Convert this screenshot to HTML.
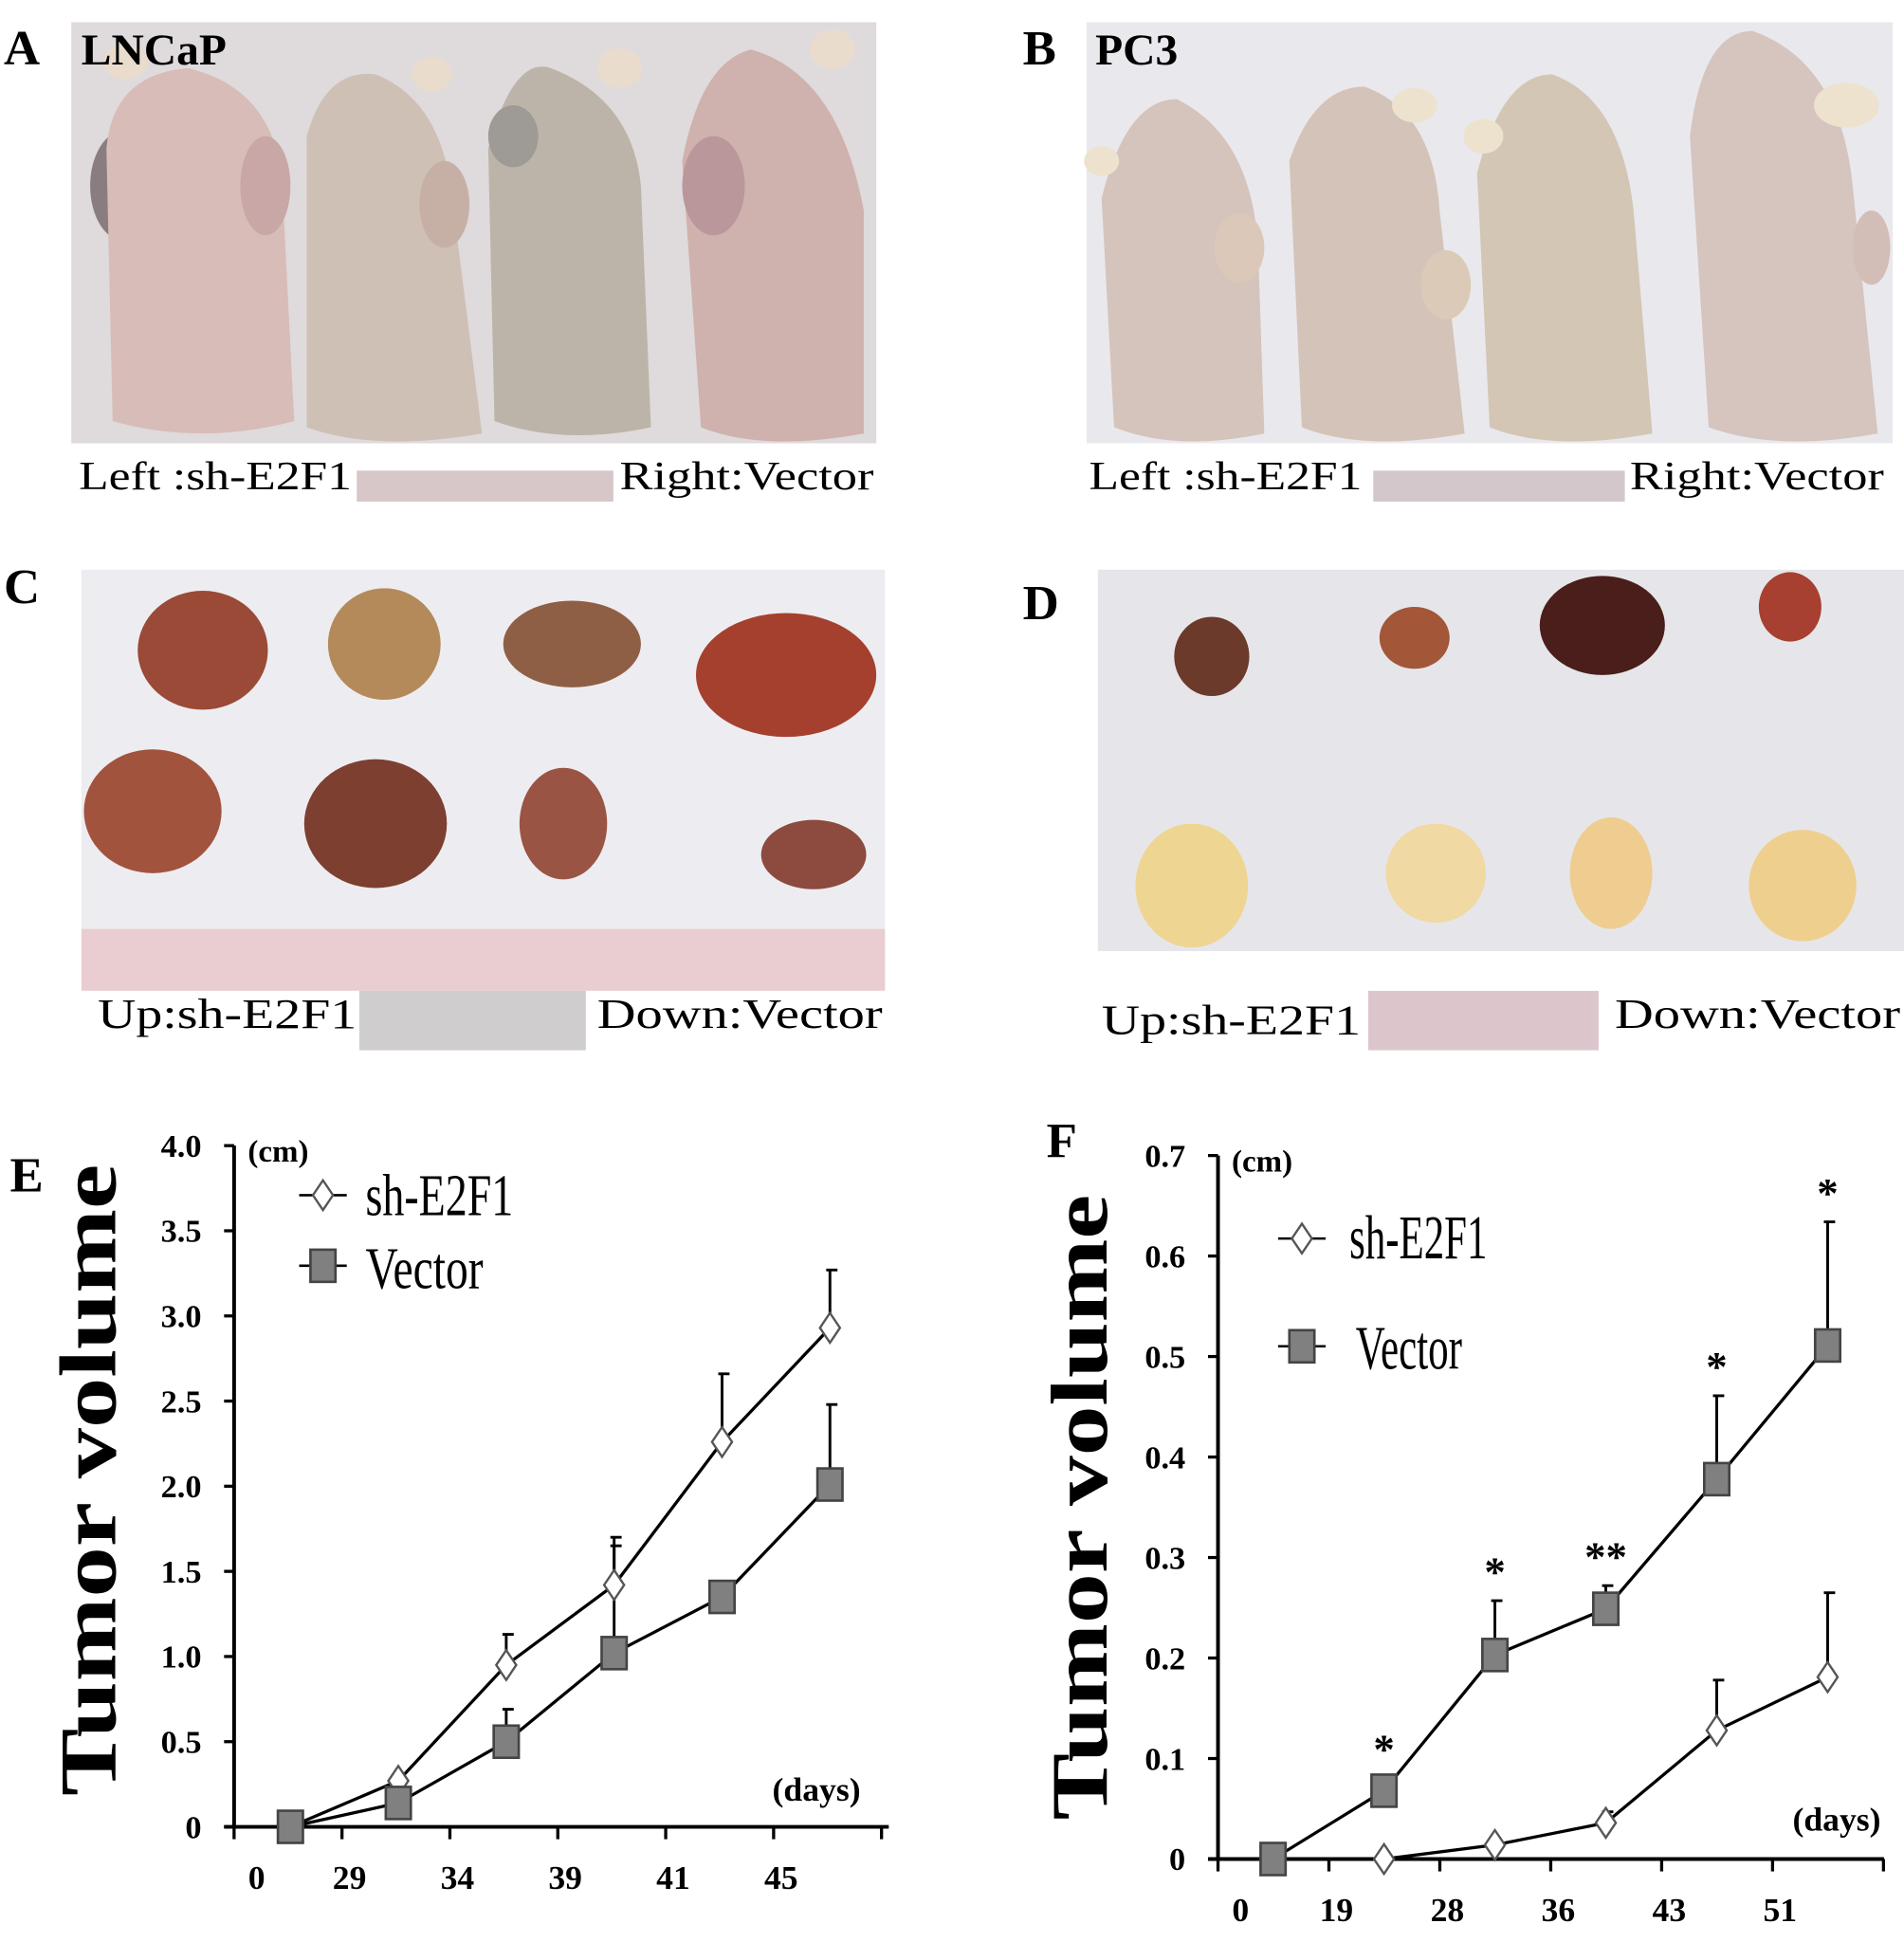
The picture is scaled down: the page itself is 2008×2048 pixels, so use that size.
<!DOCTYPE html>
<html><head><meta charset="utf-8"><style>
html,body{margin:0;padding:0;background:#fff;}
svg{display:block;}
text{font-family:"Liberation Serif",serif;}
.b{font-weight:bold;}
</style></head><body>
<svg id="fig" width="2008" height="2048" viewBox="0 0 1521 1568" preserveAspectRatio="none" xmlns="http://www.w3.org/2000/svg">
<rect width="1521" height="1568" fill="#fff"/>

<!-- Panel A -->
<g>
<rect x="57" y="18" width="643" height="340" fill="#e6e3e6"/>
<rect x="57" y="18" width="643" height="340" fill="#d8d2d2" opacity="0.5"/>
<ellipse cx="100" cy="150" rx="28" ry="45" fill="#8a7d7f"/>
<path d="M85 120 Q90 60 150 55 Q215 70 225 140 L235 340 Q160 360 90 340 Z" fill="#d8bcb8"/>
<path d="M245 110 Q260 55 300 60 Q350 80 360 150 L385 350 Q300 365 245 345 Z" fill="#cfc0b6"/>
<path d="M390 120 Q410 45 440 55 Q505 80 512 150 L520 345 Q450 360 395 340 Z" fill="#bdb4a9"/>
<path d="M545 130 Q560 50 600 40 Q670 60 690 170 L690 350 Q610 365 560 345 Z" fill="#cfb1ad"/>
<ellipse cx="212" cy="150" rx="20" ry="40" fill="#c8a7a6"/>
<ellipse cx="355" cy="165" rx="20" ry="35" fill="#c6b0a6"/>
<ellipse cx="410" cy="110" rx="20" ry="25" fill="#9e9a95"/>
<ellipse cx="570" cy="150" rx="25" ry="40" fill="#b9979a"/>
<ellipse cx="100" cy="50" rx="18" ry="14" fill="#eadccc"/>
<ellipse cx="345" cy="60" rx="16" ry="14" fill="#eadccc"/>
<ellipse cx="495" cy="55" rx="18" ry="16" fill="#eadccc"/>
<ellipse cx="665" cy="40" rx="18" ry="16" fill="#eadccc"/>
</g>
<rect x="57" y="358" width="643" height="47" fill="#fff"/>
<rect x="285" y="380" width="205" height="25" fill="#d7c7c9"/>
<text x="63" y="395" font-size="32" textLength="218" lengthAdjust="spacingAndGlyphs">Left :sh-E2F1</text>
<text x="495" y="395" font-size="32" textLength="203" lengthAdjust="spacingAndGlyphs">Right:Vector</text>
<text x="3" y="52" font-size="40" class="b">A</text>
<text x="65" y="52" font-size="36" class="b">LNCaP</text>

<!-- Panel B -->
<g>
<rect x="868" y="18" width="644" height="340" fill="#e9e8ed"/>
<path d="M880 160 Q900 80 940 80 Q1000 110 1005 200 L1010 350 Q940 365 890 345 Z" fill="#d5c4bc"/>
<path d="M1030 130 Q1050 70 1090 70 Q1145 90 1150 170 L1170 350 Q1090 365 1040 345 Z" fill="#d4c3b8"/>
<path d="M1180 140 Q1200 60 1240 60 Q1295 80 1305 170 L1320 350 Q1240 365 1190 345 Z" fill="#d3c6b5"/>
<path d="M1350 110 Q1360 25 1400 25 Q1470 50 1480 150 L1500 350 Q1420 365 1365 345 Z" fill="#d6c4be"/>
<ellipse cx="990" cy="200" rx="20" ry="28" fill="#dcc8b8"/>
<ellipse cx="1155" cy="230" rx="20" ry="28" fill="#dccab8"/>
<ellipse cx="1495" cy="200" rx="15" ry="30" fill="#d2beb6"/>
<ellipse cx="880" cy="130" rx="14" ry="12" fill="#ece2ce"/>
<ellipse cx="1130" cy="85" rx="18" ry="14" fill="#ece2ce"/>
<ellipse cx="1185" cy="110" rx="16" ry="14" fill="#ece2ce"/>
<ellipse cx="1475" cy="85" rx="26" ry="18" fill="#ece2ce"/>
</g>
<rect x="868" y="358" width="644" height="47" fill="#fff"/>
<rect x="1097" y="380" width="201" height="25" fill="#d4c7cc"/>
<text x="870" y="395" font-size="32" textLength="218" lengthAdjust="spacingAndGlyphs">Left :sh-E2F1</text>
<text x="1302" y="395" font-size="32" textLength="203" lengthAdjust="spacingAndGlyphs">Right:Vector</text>
<text x="817" y="52" font-size="40" class="b">B</text>
<text x="875" y="52" font-size="36" class="b">PC3</text>

<!-- Panel C -->
<g>
<rect x="65" y="460" width="642" height="290" fill="#ededf1"/>
<ellipse cx="162" cy="525" rx="52" ry="48" fill="#9a4a36"/>
<ellipse cx="307" cy="520" rx="45" ry="45" fill="#b58a5a"/>
<ellipse cx="457" cy="520" rx="55" ry="35" fill="#8f5f45"/>
<ellipse cx="628" cy="545" rx="72" ry="50" fill="#a5402f"/>
<ellipse cx="122" cy="655" rx="55" ry="50" fill="#a2533d"/>
<ellipse cx="300" cy="665" rx="57" ry="52" fill="#7d4030"/>
<ellipse cx="450" cy="665" rx="35" ry="45" fill="#9a5443"/>
<ellipse cx="650" cy="690" rx="42" ry="28" fill="#8c4b3e"/>
<rect x="65" y="750" width="642" height="50" fill="#e9cdd1"/>
</g>
<rect x="65" y="800" width="642" height="48" fill="#fff"/>
<rect x="287" y="800" width="181" height="48" fill="#cfcdcd"/>
<text x="78" y="830" font-size="34" textLength="207" lengthAdjust="spacingAndGlyphs">Up:sh-E2F1</text>
<text x="477" y="830" font-size="34" textLength="228" lengthAdjust="spacingAndGlyphs">Down:Vector</text>
<text x="3" y="487" font-size="40" class="b">C</text>

<!-- Panel D -->
<g>
<rect x="877" y="460" width="644" height="308" fill="#e6e6ea"/>
<ellipse cx="968" cy="530" rx="30" ry="32" fill="#6b3a2a"/>
<ellipse cx="1130" cy="515" rx="28" ry="25" fill="#a35638"/>
<ellipse cx="1280" cy="505" rx="50" ry="40" fill="#4a1e1a"/>
<ellipse cx="1430" cy="490" rx="25" ry="28" fill="#a74030"/>
<ellipse cx="952" cy="715" rx="45" ry="50" fill="#efd592"/>
<ellipse cx="1147" cy="705" rx="40" ry="40" fill="#f0d9a2"/>
<ellipse cx="1287" cy="705" rx="33" ry="45" fill="#efcd90"/>
<ellipse cx="1440" cy="715" rx="43" ry="45" fill="#efcf8e"/>
</g>
<rect x="877" y="768" width="644" height="80" fill="#fff"/>
<rect x="1093" y="800" width="184" height="48" fill="#dcc6cc"/>
<text x="880" y="835" font-size="34" textLength="207" lengthAdjust="spacingAndGlyphs">Up:sh-E2F1</text>
<text x="1290" y="830" font-size="34" textLength="228" lengthAdjust="spacingAndGlyphs">Down:Vector</text>
<text x="817" y="500" font-size="40" class="b">D</text>

<g id="chartE"></g>
<g id="chartF"></g>
</svg>
<script>
// ---- Chart E data ----
const eCategories = ["0","29","34","39","41","45"];
const eYTicks = [0,0.5,1,1.5,2,2.5,3,3.5,4];
const eYTickLabels = ["0","0.5","1.0","1.5","2.0","2.5","3.0","3.5","4.0"];
const eShValues = [0,0.27,0.95,1.42,2.26,2.93];
const eShErrTop = [null,null,1.13,1.65,2.66,3.27];
const eVecValues = [0,0.14,0.50,1.02,1.35,2.01];
const eVecErrTop = [null,null,0.69,1.70,null,2.48];
// ---- Chart F data ----
const fCategories = ["0","19","28","36","43","51"];
const fYTicks = [0,0.1,0.2,0.3,0.4,0.5,0.6,0.7];
const fYTickLabels = ["0","0.1","0.2","0.3","0.4","0.5","0.6","0.7"];
const fShValues = [0,0,0.014,0.036,0.128,0.181];
const fShErrTop = [null,null,null,0.047,0.178,0.265];
const fVecValues = [0,0.068,0.203,0.249,0.378,0.511];
const fVecErrTop = [null,null,0.257,0.272,0.461,0.634];
const fStars = ["","*","*","**","*","*"];

const NS="http://www.w3.org/2000/svg";
function mk(parent,tag,attrs,txt){const e=document.createElementNS(NS,tag);for(const k in attrs)e.setAttribute(k,attrs[k]);if(txt!==undefined)e.textContent=txt;parent.appendChild(e);return e;}

function drawChart(g,cfg){
  const x=i=>cfg.x0+cfg.firstPt+i*cfg.step;
  const y=v=>cfg.yBase-(v/cfg.yMax)*(cfg.yBase-cfg.yTop);
  let ax=mk(g,'line',{x1:cfg.x0,y1:cfg.yTop,x2:cfg.x0,y2:cfg.yBase,stroke:'#000','stroke-width':3});
  
  
  let axx=mk(g,'line',{x1:cfg.x0-8,y1:cfg.yBase,x2:cfg.xEnd,y2:cfg.yBase,stroke:'#000','stroke-width':3});
  
  
  cfg.yTicks.forEach((v,i)=>{
    mk(g,'line',{x1:cfg.x0-8,y1:y(v),x2:cfg.x0,y2:y(v),stroke:'#000','stroke-width':2.5});
    const t=mk(g,'text',{x:cfg.x0-26,y:y(v)+9,'font-size':26,'text-anchor':'end','font-weight':'bold'},cfg.yLabels[i]);
    
    
  });
  for(let k=0;k<=cfg.cats.length;k++){
    const tx=cfg.x0+k*cfg.step;
    mk(g,'line',{x1:tx,y1:cfg.yBase,x2:tx,y2:cfg.yBase+10,stroke:'#000','stroke-width':2.5});
  }
  cfg.cats.forEach((c,i)=>{
    const lx = i===0 ? cfg.x0+18 : cfg.x0+i*cfg.step+6;
    const t=mk(g,'text',{x:lx,y:cfg.yBase+50,'font-size':27,'text-anchor':'middle','font-weight':'bold'},c);
    
    
  });
  function errs(vals,tops){vals.forEach((v,i)=>{const t=tops[i];if(t==null)return;
    const e=mk(g,'path',{d:`M${x(i)} ${y(v)} V${y(t)} M${x(i)-3} ${y(t)} H${x(i)+6}`,stroke:'#000','stroke-width':2.2,fill:'none'});
    
    });}
  errs(cfg.sh,cfg.shErr); errs(cfg.vec,cfg.vecErr);
  const line=(vals,name)=>{const p=mk(g,'polyline',{points:vals.map((v,i)=>x(i)+','+y(v)).join(' '),fill:'none',stroke:'#000','stroke-width':2.5});
    
    };
  line(cfg.sh,'sh-e2f1-line'); line(cfg.vec,'vector-line');
  const diamond=(cx,cy)=>mk(g,'path',{d:`M${cx} ${cy-12} L${cx+8} ${cy} L${cx} ${cy+12} L${cx-8} ${cy} Z`,fill:'#fff',stroke:'#555','stroke-width':1.8});
  const square=(cx,cy)=>mk(g,'rect',{x:cx-10,y:cy-13,width:20,height:26,fill:'#808080',stroke:'#444','stroke-width':2});
  cfg.sh.forEach((v,i)=>{const d=diamond(x(i),y(v));
    
    });
  cfg.vec.forEach((v,i)=>{const s=square(x(i),y(v));
    
    });
  if(cfg.stars){cfg.stars.forEach((s,i)=>{if(!s)return;const top=cfg.vecErr[i]!=null?cfg.vecErr[i]:cfg.vec[i];
    const t=mk(g,'text',{x:x(i),y:y(top)-(cfg.vecErr[i]!=null?12:22),'font-size':34,'text-anchor':'middle','font-weight':'bold'},s);
    
    });}
  const L=cfg.legend;
  mk(g,'line',{x1:L.x-19,y1:L.y1,x2:L.x+19,y2:L.y1,stroke:'#000','stroke-width':2});
  diamond(L.x,L.y1);
  let lt=mk(g,'text',{x:L.tx,y:L.y1+16,'font-size':L.fs,textLength:L.w1,lengthAdjust:'spacingAndGlyphs'},'sh-E2F1');
  
  
  mk(g,'line',{x1:L.x-19,y1:L.y2,x2:L.x+19,y2:L.y2,stroke:'#000','stroke-width':2});
  square(L.x,L.y2);
  let lv=mk(g,'text',{x:L.tx2,y:L.y2+18,'font-size':L.fs,textLength:L.w2,lengthAdjust:'spacingAndGlyphs'},'Vector');
  
  
  let cm=mk(g,'text',{x:cfg.x0+11,y:cfg.yTop+13,'font-size':25,'font-weight':'bold'},'(cm)');
  
  
  let dy=mk(g,'text',{x:cfg.daysX,y:cfg.daysY,'font-size':27,'font-weight':'bold'},'(days)');
  
  
  let yt=mk(g,'text',{x:0,y:0,'font-size':64,'font-weight':'bold','text-anchor':'middle',textLength:cfg.titleLen,lengthAdjust:'spacingAndGlyphs',transform:`translate(${cfg.titleX} ${cfg.titleY}) rotate(-90)`},'Tumor volume');
  
  
  let le=mk(g,'text',{x:cfg.letterX,y:cfg.letterY,'font-size':40,'font-weight':'bold'},cfg.letter);
  
  
}

drawChart(document.getElementById('chartE'),{x0:187,yTop:925,yBase:1475,yMax:4,xEnd:710,firstPt:45,step:86.2,
  cats:eCategories,yTicks:eYTicks,yLabels:eYTickLabels,sh:eShValues,shErr:eShErrTop,vec:eVecValues,vecErr:eVecErrTop,
  legend:{x:258,y1:965,y2:1022,tx:292,tx2:292,fs:48,w1:118,w2:94},daysX:617,daysY:1454,titleX:92,titleY:1195,titleLen:510,letterX:8,letterY:962,letter:'E'});
drawChart(document.getElementById('chartF'),{x0:973,yTop:933,yBase:1501,yMax:0.7,xEnd:1505,firstPt:44,step:88.6,
  cats:fCategories,yTicks:fYTicks,yLabels:fYTickLabels,sh:fShValues,shErr:fShErrTop,vec:fVecValues,vecErr:fVecErrTop,stars:fStars,
  legend:{x:1040,y1:1000,y2:1087,tx:1078,tx2:1083,fs:50,w1:110,w2:85},daysX:1432,daysY:1478,titleX:884,titleY:1217,titleLen:505,letterX:836,letterY:934,letter:'F'});
</script>
</body></html>
